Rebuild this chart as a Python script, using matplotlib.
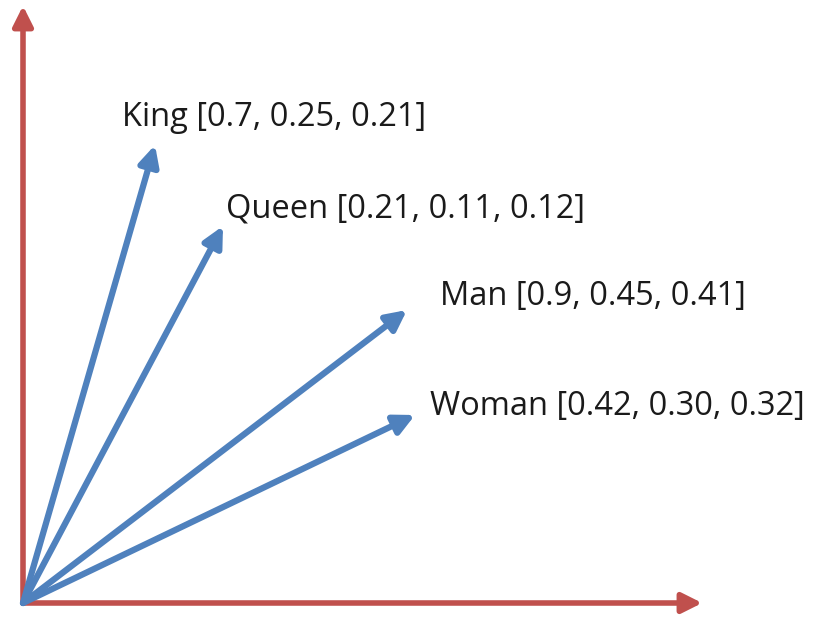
import matplotlib.pyplot as plt

# vector tips (px offset from origin)
labels = ["King [0.7, 0.25, 0.21]", "Queen [0.21, 0.11, 0.12]",
          "Man [0.9, 0.45, 0.41]", "Woman [0.42, 0.30, 0.32]"]
tip_x = [132, 200, 384, 392]
tip_y = [458, 377, 293, 188]
label_x = [99, 203, 417, 407]
label_y = [485, 394, 306, 197]

x_len = 682
y_len = 600

fig = plt.figure(figsize=(8.35, 6.21), dpi=100)
ax = fig.add_axes([0, 0, 1, 1])
ax.set_xlim(-23, 812)
ax.set_ylim(-18, 603)
ax.axis("off")

red = "#C0504D"
blue = "#4F81BD"

ax.annotate("", xy=(x_len, 0), xytext=(-3, 0),
            arrowprops=dict(arrowstyle="-|>", color=red, lw=4, mutation_scale=30))
ax.annotate("", xy=(0, y_len), xytext=(0, -3),
            arrowprops=dict(arrowstyle="-|>", color=red, lw=4, mutation_scale=30))

for tx, ty in zip(tip_x, tip_y):
    ax.annotate("", xy=(tx, ty), xytext=(0, 0),
                arrowprops=dict(arrowstyle="-|>", color=blue, lw=4.5, mutation_scale=30,
                                shrinkA=0, shrinkB=0))

for lab, lx, ly in zip(labels, label_x, label_y):
    ax.text(lx, ly, lab, fontsize=23.5, family="Open Sans", va="center", ha="left", color="#1a1a1a")

fig.savefig("out.png", dpi=100)
